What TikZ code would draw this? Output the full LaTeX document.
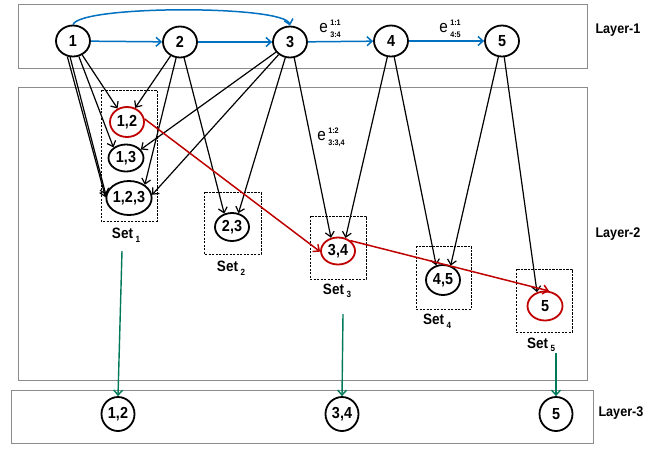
\documentclass[tikz,border=0pt]{standalone}
\usepackage{fontspec}
\setmainfont[FakeStretch=0.9]{Liberation Sans}
\usetikzlibrary{shapes.geometric,arrows.meta}
\definecolor{lblue}{HTML}{0070C0}
\definecolor{lred}{HTML}{C00000}
\definecolor{lgreen}{HTML}{00785A}
\definecolor{lgray}{HTML}{8C8C8C}
\newcommand{\setlbl}[1]{Set\,\raisebox{-0.45ex}{\fontsize{9}{9}\selectfont #1}}
\newcommand{\elbl}[2]{{\fontsize{17}{17}\selectfont e}\hspace{2.5pt}\raisebox{1pt}{\fontsize{8}{12}\selectfont\bfseries\begin{tabular}{@{}l@{}}#1\\#2\end{tabular}}}
\begin{document}
\begin{tikzpicture}[x=1pt,y=-1pt,
  nd/.style={ellipse,draw=black,line width=1.8pt,inner sep=0pt,font=\bfseries\fontsize{16}{16}\selectfont},
  rnd/.style={nd,draw=lred},
  arr/.style={-{Straight Barb[length=5pt,width=9pt]},line width=1.2pt},
  barr/.style={arr,draw=lblue,line width=1.5pt},
  rarr/.style={arr,draw=lred,line width=1.5pt},
  garr/.style={arr,draw=lgreen,line width=1.4pt},
  layerbox/.style={draw=lgray,line width=0.9pt},
  dashbox/.style={draw=black,line width=0.8pt,dash pattern=on 2.2pt off 1.3pt},
  layerlbl/.style={font=\bfseries\fontsize{14}{14}\selectfont,anchor=west},
  setlab/.style={font=\bfseries\fontsize{15}{15}\selectfont},
  elab/.style={inner sep=0pt}
]
\useasboundingbox (0,0) rectangle (671,448);
% layer boxes
\draw[layerbox] (18,4) rectangle (587,68);
\draw[layerbox] (18,87) rectangle (587,380);
\draw[layerbox] (11,390) rectangle (593,443);
\node[layerlbl] (L1) at (592,30) {Layer-1};
\node[layerlbl] (L2) at (592,234) {Layer-2};
\node[layerlbl] (L3) at (595,413) {Layer-3};
% dashed set boxes
\draw[dashbox] (101,90) rectangle (157,221);
\draw[dashbox] (204,192) rectangle (261,254);
\draw[dashbox] (310,216) rectangle (366,279);
\draw[dashbox] (416,246) rectangle (471,309);
\draw[dashbox] (516,269) rectangle (572,332);
% layer-1 nodes
\node[nd,minimum width=34pt,minimum height=31pt] (n1) at (73,41) {1};
\node[nd,minimum width=34pt,minimum height=31pt] (n2) at (180,42) {2};
\node[nd,minimum width=34pt,minimum height=31pt] (n3) at (290,42) {3};
\node[nd,minimum width=34pt,minimum height=31pt] (n4) at (391,41) {4};
\node[nd,minimum width=34pt,minimum height=31pt] (n5) at (502,41) {5};
% layer-2 nodes
\node[rnd,minimum width=34pt,minimum height=30pt] (s12) at (127,122) {1,2};
\node[nd,minimum width=35pt,minimum height=27pt] (s13) at (126,158) {1,3};
\node[nd,minimum width=44pt,minimum height=34pt] (s123) at (129,198) {1,2,3};
\node[nd,minimum width=34pt,minimum height=28pt] (s23) at (232,227) {2,3};
\node[rnd,minimum width=34pt,minimum height=27pt] (s34) at (338,251) {3,4};
\node[nd,minimum width=34pt,minimum height=30pt] (s45) at (443,280) {4,5};
\node[rnd,minimum width=35pt,minimum height=29pt] (s5) at (545,306) {5};
% set labels
\node[setlab] (set1) at (126,235) {\setlbl{1}};
\node[setlab] (set2) at (231,268) {\setlbl{2}};
\node[setlab] (set3) at (337,291) {\setlbl{3}};
\node[setlab] (set4) at (437,321) {\setlbl{4}};
\node[setlab] (set5) at (541,345) {\setlbl{5}};
% layer-3 nodes
\node[nd,minimum width=33pt,minimum height=34pt] (t12) at (118,414) {1,2};
\node[nd,minimum width=33pt,minimum height=34pt] (t34) at (342,414) {3,4};
\node[nd,minimum width=33pt,minimum height=34pt] (t5) at (556,414) {5};
% blue layer-1 edges
\draw[barr] (n1) -- (n2);
\draw[barr] (n2) -- (n3);
\draw[barr] (n3) -- (n4);
\draw[barr] (n4) -- (n5);
\draw[barr] (n1.north) .. controls (80,5) and (285,5) .. (n3.north);
\node[elab] (e34) at (330,29) {\elbl{1:1}{3:4}};
\node[elab] (e45) at (450,29) {\elbl{1:1}{4:5}};
% black edges layer-1 -> layer-2
\draw[arr] (n1) -- (s12.125);
\draw[arr] (n2) -- (s12.60);
\draw[arr] (n1) -- (s13.140);
\draw[arr] (n3) -- (s13.30);
\draw[arr] (n1.-110) -- (s123.178);
\draw[arr] (n1.-100) -- (s123.172);
\draw[arr] (n2) -- (s123.40);
\draw[arr] (n3) -- (s123.8);
\draw[arr] (n2) -- (s23.120);
\draw[arr] (n3) -- (s23.65);
\draw[arr] (n3.-75) -- (s34.118);
\draw[arr] (n4) -- (s34.60);
\draw[arr] (n4) -- (s45.115);
\draw[arr] (n5) -- (s45.62);
\draw[arr] (n5) -- (s5.120);
\node[elab] (e334) at (331,137) {\elbl{1:2}{3:3,4}};
% red path
\draw[rarr] (s12.10) -- (s34.182);
\draw[rarr] (s34.40) -- (s5.75);
% green edges to layer-3
\coordinate (g1) at (122,251);
\coordinate (g3) at (343,314);
\coordinate (g5) at (556,353);
\draw[garr] (g1) -- (t12.north);
\draw[garr] (g3) -- (t34.north);
\draw[garr] (g5) -- (t5.north);
\end{tikzpicture}
\end{document}
